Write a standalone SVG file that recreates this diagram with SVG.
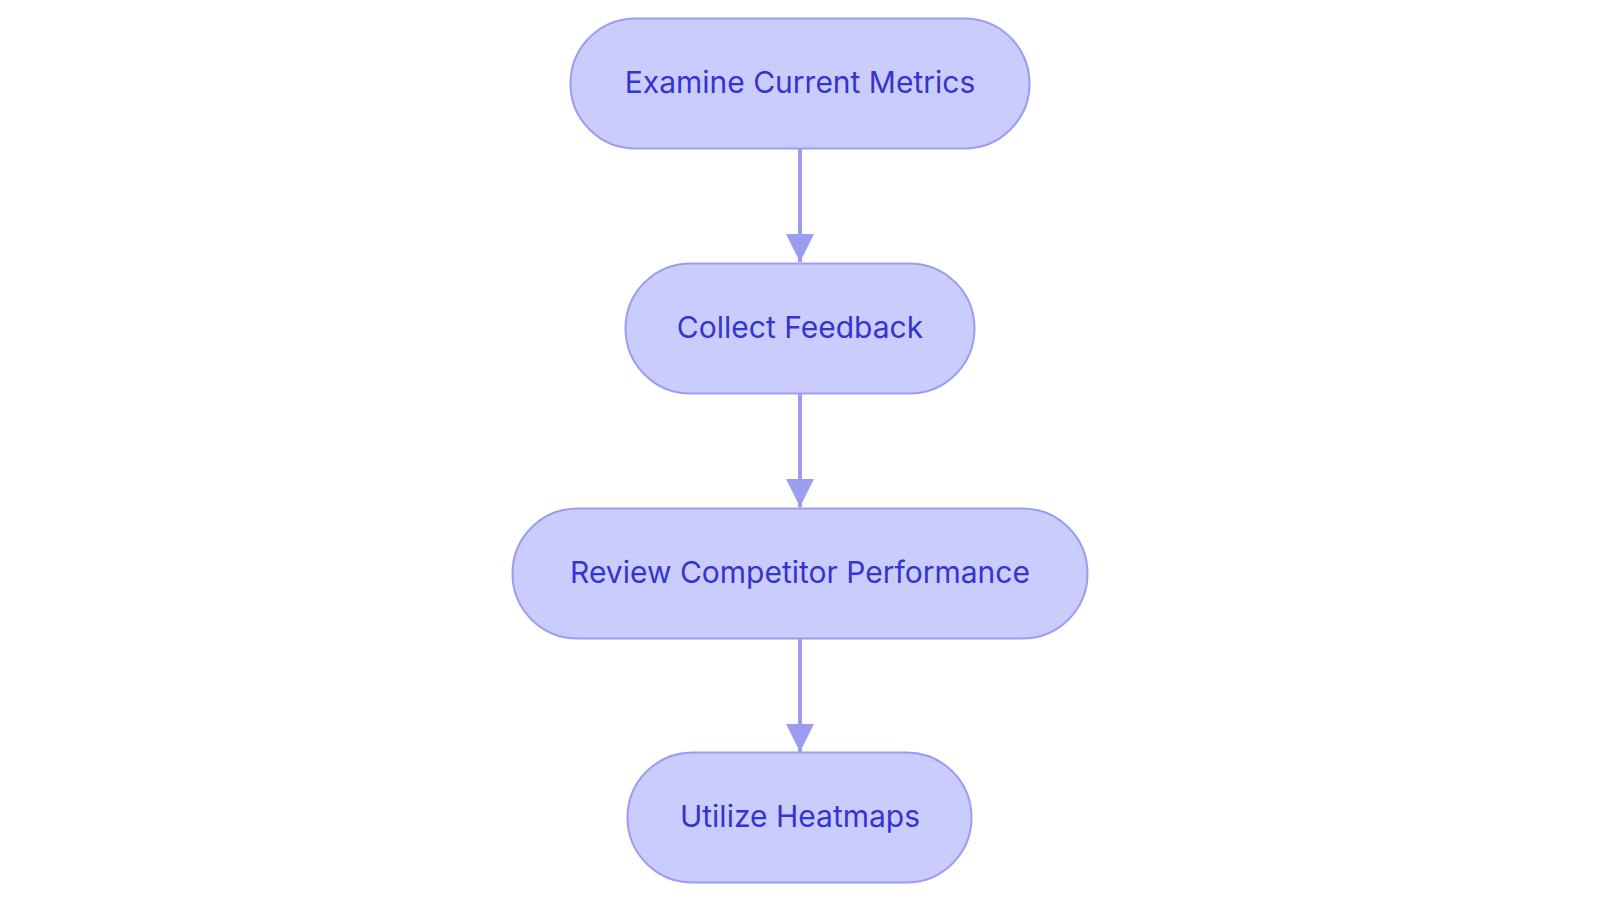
<svg xmlns="http://www.w3.org/2000/svg" width="1600" height="903" viewBox="0 0 1600 903">
<style>
.n rect{fill:#CBCCFE;stroke:#9A9DF0;stroke-width:2}
.n text{font-family:Inter,"Open Sans",sans-serif;font-size:30px;fill:#3434CF;text-anchor:middle;dominant-baseline:central}
.c line{stroke:#9A9DF0;stroke-width:4}
</style>
<defs><marker id="a" viewBox="0 0 10 10" refX="10" refY="5" markerWidth="7" markerHeight="7" markerUnits="strokeWidth" orient="auto"><path d="M0,0L10,5L0,10z" fill="#9A9DF0"/></marker></defs>
<rect width="1600" height="903" fill="#fff"/>
<g class="c">
<line x1="800" y1="149" x2="800" y2="262" marker-end="url(#a)"/>
<line x1="800" y1="394" x2="800" y2="507" marker-end="url(#a)"/>
<line x1="800" y1="639" x2="800" y2="752" marker-end="url(#a)"/>
</g>
<g class="n" id="n1"><rect x="570.5" y="18.5" width="459" height="130" rx="65"/><text x="800" y="82">Examine Current Metrics</text></g>
<g class="n" id="n2"><rect x="625.5" y="263.5" width="349" height="130" rx="65"/><text x="800" y="327">Collect Feedback</text></g>
<g class="n" id="n3"><rect x="512.5" y="508.5" width="575" height="130" rx="65"/><text x="800" y="572">Review Competitor Performance</text></g>
<g class="n" id="n4"><rect x="627.5" y="752.5" width="344" height="130" rx="65"/><text x="800" y="816">Utilize Heatmaps</text></g>
</svg>
